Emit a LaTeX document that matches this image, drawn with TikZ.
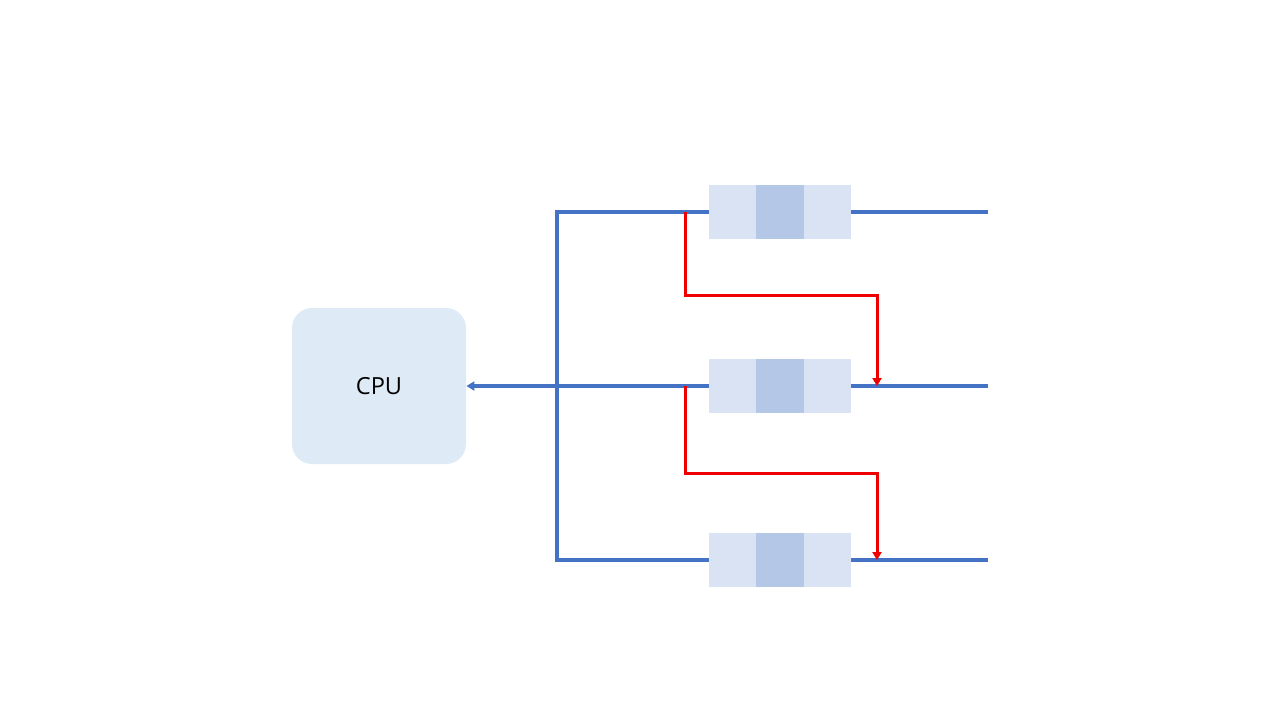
\documentclass[tikz,border=0pt]{standalone}
\usepackage{fontspec}
\setmainfont{Open Sans}
\usetikzlibrary{arrows.meta}
\definecolor{cpufill}{HTML}{DEEBF7}
\definecolor{reglight}{HTML}{DAE3F3}
\definecolor{regdark}{HTML}{B4C7E7}
\definecolor{busblue}{HTML}{4472C4}
\definecolor{pathred}{HTML}{EE0000}
\tikzset{
  cpubox/.style={fill=cpufill, rounded corners=10pt, minimum width=87pt, minimum height=78pt, inner sep=0pt, font=\fontsize{11.8}{14}\selectfont},
  regbox/.style={fill=reglight, minimum width=71pt, minimum height=27pt, inner sep=0pt},
  regmid/.style={fill=regdark, minimum width=24pt, minimum height=27pt, inner sep=0pt},
  bus/.style={draw=busblue, line width=1.6pt},
  busarrow/.style={bus, -{Triangle[length=4pt,width=4.5pt]}},
  redpath/.style={draw=pathred, line width=1.5pt, -{Triangle[length=4pt,width=4.5pt]}}
}
\begin{document}
\begin{tikzpicture}[x=0.5pt,y=-0.5pt]
  \useasboundingbox (0,0) rectangle (1280,720);
  \node[cpubox] (cpu) at (379,386) {CPU};

  % registers
  \foreach \i/\y in {1/212,2/386,3/560} {
    \node[regbox] (reg\i) at (780,\y) {};
    \node[regmid] (reg\i m) at (780,\y) {};
    \coordinate (out\i) at (988,\y);
  }

  % bus lines
  \coordinate (tap1) at (557,212);
  \coordinate (tap3) at (557,560);
  \draw[bus] (reg1.west) -- (tap1) -- (tap3) -- (reg3.west);
  \draw[busarrow] (reg2.west) -- (reg2.west -| cpu.east);
  \draw[bus] (reg1.east) -- (out1);
  \draw[bus] (reg2.east) -- (out2);
  \draw[bus] (reg3.east) -- (out3);

  % forwarding paths
  \coordinate (fa) at (685,212);
  \coordinate (fb) at (685,386);
  \draw[redpath] (fa) |- (877,295) -- (877,386);
  \draw[redpath] (fb) |- (877,473) -- (877,560);
\end{tikzpicture}
\end{document}
